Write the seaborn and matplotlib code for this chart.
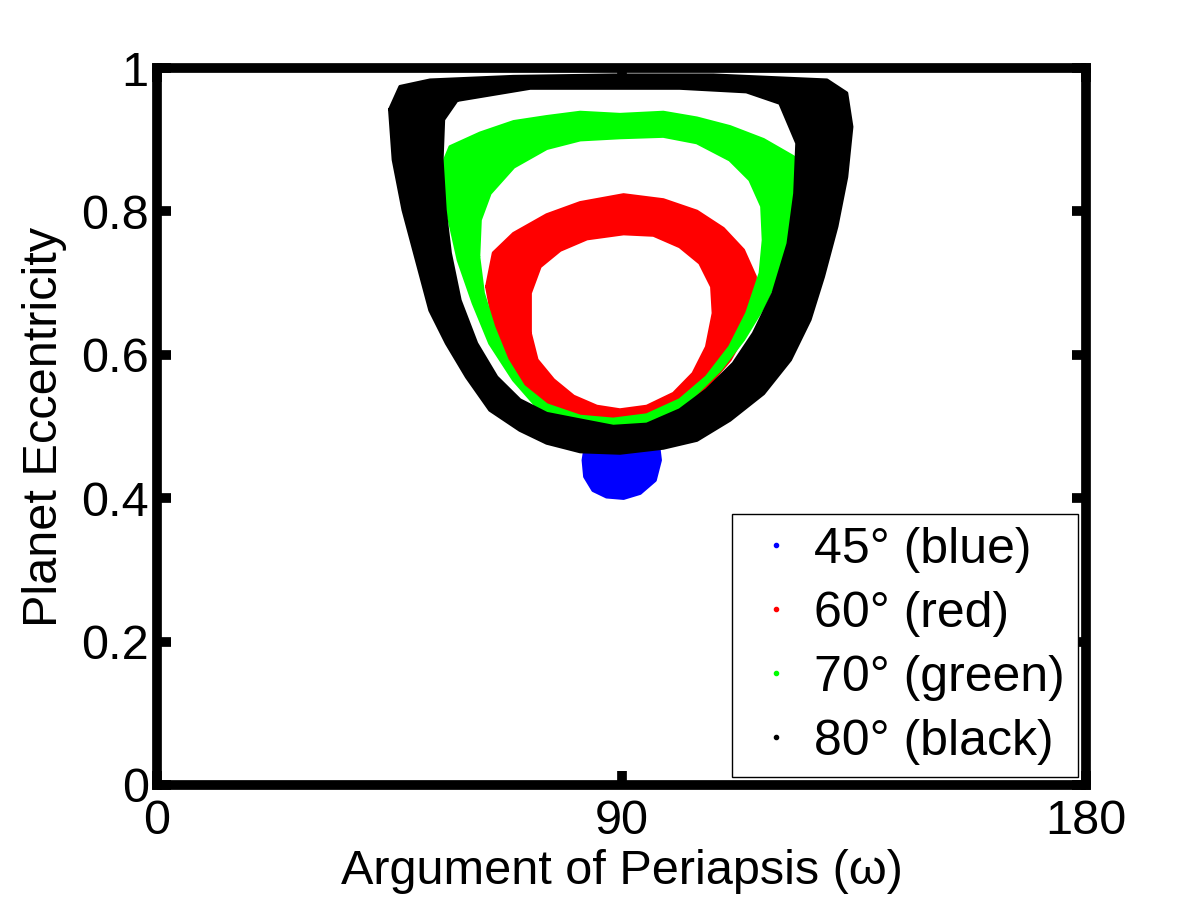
import numpy as np
import matplotlib
matplotlib.use("Agg")
import matplotlib.pyplot as plt
from matplotlib.path import Path
from matplotlib.patches import PathPatch
from matplotlib.lines import Line2D
import seaborn as sns

# Band outlines: argument of periapsis (deg) and eccentricity
blue_w = [89.7, 85.8, 83.2, 82.6, 82.9, 84.5, 87.1, 90.4, 93.6, 96.5, 97.5, 97.1, 94.9, 92.9]
blue_e = [0.518, 0.511, 0.481, 0.453, 0.430, 0.411, 0.402, 0.400, 0.407, 0.425, 0.453, 0.477, 0.504, 0.516]

red_out_w = [63.9, 65.2, 69.1, 75.5, 82.0, 90.4, 98.1, 104.6, 109.7, 113.6, 115.9, 115.9,
             114.3, 111.0, 106.5, 101.3, 94.9, 88.4, 82.0, 76.2, 71.6, 67.8, 65.2]
red_out_e = [0.695, 0.742, 0.769, 0.795, 0.812, 0.823, 0.816, 0.800, 0.776, 0.746, 0.709, 0.676,
             0.635, 0.593, 0.555, 0.525, 0.502, 0.495, 0.502, 0.523, 0.556, 0.597, 0.644]
red_in_w = [72.3, 74.2, 78.1, 83.3, 90.4, 96.2, 101.3, 105.2, 107.5, 107.8, 106.5, 103.9,
            100.1, 94.9, 89.7, 85.2, 80.7, 76.8, 73.6, 72.3]
red_in_e = [0.686, 0.723, 0.746, 0.762, 0.769, 0.767, 0.751, 0.728, 0.695, 0.658, 0.611, 0.574,
            0.546, 0.528, 0.523, 0.528, 0.542, 0.565, 0.593, 0.630]

green_out_w = [55.2, 56.8, 62.6, 69.1, 75.5, 82.0, 89.7, 98.1, 104.6, 111.0, 117.5, 123.3, 124.6,
               124.0, 123.0, 120.7, 117.5, 113.6, 109.1, 103.9, 98.8, 92.3, 88.4, 83.3, 78.1,
               73.6, 69.1, 64.5, 61.3, 58.4, 56.5, 55.5]
green_out_e = [0.862, 0.890, 0.909, 0.925, 0.932, 0.938, 0.935, 0.938, 0.930, 0.918, 0.900, 0.876, 0.858,
               0.816, 0.769, 0.718, 0.667, 0.621, 0.579, 0.542, 0.509, 0.481, 0.476, 0.481, 0.500,
               0.528, 0.565, 0.616, 0.672, 0.732, 0.793, 0.835]
green_in_w = [62.6, 64.5, 69.1, 75.5, 82.0, 89.7, 98.1, 104.6, 111.0, 114.9, 117.2, 117.5, 116.9,
              114.3, 111.0, 106.5, 101.3, 94.9, 88.4, 82.0, 75.5, 71.0, 67.8, 65.2, 63.2, 62.3]
green_in_e = [0.788, 0.825, 0.862, 0.888, 0.900, 0.903, 0.905, 0.896, 0.872, 0.844, 0.807, 0.760, 0.714,
              0.658, 0.611, 0.569, 0.537, 0.516, 0.510, 0.514, 0.530, 0.556, 0.593, 0.639, 0.686, 0.737]

black_out_w = [45.1, 45.8, 47.7, 50.3, 52.9, 56.1, 60.0, 64.5, 70.3, 75.5, 82.0, 89.7, 98.1, 104.6,
               111.0, 117.5, 122.7, 126.5, 129.1, 131.7, 133.6, 134.6, 133.6, 129.8, 107.8, 88.4,
               69.0, 52.9, 47.1]
black_out_e = [0.942, 0.872, 0.802, 0.732, 0.662, 0.616, 0.569, 0.523, 0.495, 0.477, 0.465, 0.463, 0.470,
               0.481, 0.509, 0.546, 0.593, 0.649, 0.709, 0.779, 0.848, 0.918, 0.965, 0.983, 0.990,
               0.990, 0.988, 0.983, 0.974]
black_in_w = [58.1, 72.3, 88.4, 101.3, 114.2, 120.7, 124.0, 123.6, 122.3, 119.4, 115.6, 111.7, 106.5,
              101.3, 94.9, 88.4, 81.9, 75.5, 70.3, 65.8, 61.9, 58.7, 56.8, 55.8, 55.2, 55.5]
black_in_e = [0.955, 0.972, 0.972, 0.972, 0.967, 0.951, 0.895, 0.825, 0.755, 0.686, 0.630, 0.588, 0.551,
              0.523, 0.503, 0.500, 0.509, 0.518, 0.537, 0.569, 0.616, 0.676, 0.742, 0.802, 0.872, 0.928]

labels = ["45\u00b0 (blue)", "60\u00b0 (red)", "70\u00b0 (green)", "80\u00b0 (black)"]
colors = ["#0000ff", "#ff0000", "#00ff00", "#000000"]

sns.set_style("white")
plt.rcParams["font.family"] = ["Liberation Sans", "DejaVu Sans"]
plt.rcParams["font.size"] = 35
plt.rcParams["text.color"] = "black"
plt.rcParams["axes.labelcolor"] = "black"
plt.rcParams["xtick.color"] = "black"
plt.rcParams["ytick.color"] = "black"


def signed_area(w, e):
    w = np.asarray(w)
    e = np.asarray(e)
    return 0.5 * np.sum(w * np.roll(e, -1) - np.roll(w, -1) * e)


def draw_band(ax, color, z, ow, oe, iw=None, ie=None):
    loops = [(list(ow), list(oe))]
    if iw is not None:
        iw, ie = list(iw), list(ie)
        if np.sign(signed_area(ow, oe)) == np.sign(signed_area(iw, ie)):
            iw, ie = iw[::-1], ie[::-1]
        loops.append((iw, ie))
    verts, codes = [], []
    for w, e in loops:
        pts = list(zip(w, e))
        verts += pts + [pts[0]]
        codes += [Path.MOVETO] + [Path.LINETO] * (len(pts) - 1) + [Path.CLOSEPOLY]
    ax.add_patch(PathPatch(Path(verts, codes), facecolor=color, edgecolor="none", zorder=z))
    # ragged edge of the point cloud
    for w, e in loops:
        sns.lineplot(x=w + w[:1], y=e + e[:1], sort=False, estimator=None,
                     color=color, lw=2.5, ax=ax, legend=False, zorder=z)


fig = plt.figure(figsize=(12, 9), dpi=100)
ax = fig.add_axes([157 / 1200, 1 - 785 / 900, 929 / 1200, 717 / 900])

draw_band(ax, colors[0], 1, blue_w, blue_e)
draw_band(ax, colors[1], 2, red_out_w, red_out_e, red_in_w, red_in_e)
draw_band(ax, colors[2], 3, green_out_w, green_out_e, green_in_w, green_in_e)
draw_band(ax, colors[3], 4, black_out_w, black_out_e, black_in_w, black_in_e)

ax.set_xlim(0, 180)
ax.set_ylim(0, 1)
ax.set_xticks([0, 90, 180])
ax.set_xticklabels(["0", "90", "180"])
ax.set_yticks([0, 0.2, 0.4, 0.6, 0.8, 1])
ax.set_yticklabels(["0", "0.2", "0.4", "0.6", "0.8", "1"])
ax.tick_params(direction="in", length=10, width=7, top=True, right=True,
               bottom=True, left=True, labelsize=35, colors="black")
ax.tick_params(axis="y", pad=6)
ax.tick_params(axis="x", pad=10)
for sp in ax.spines.values():
    sp.set_linewidth(7)
    sp.set_color("black")
    sp.set_zorder(6)

ax.set_xlabel("Argument of Periapsis (\u03c9)", fontsize=35, labelpad=4, color="black")
ax.set_ylabel("Planet Eccentricity", fontsize=35, labelpad=10, color="black")

handles = [Line2D([], [], ls="", marker=".", markersize=6, color=c) for c in colors]
leg = ax.legend(handles, labels, loc="lower right", bbox_to_anchor=(0.991, 0.011),
                fontsize=36, frameon=True, fancybox=False, framealpha=1,
                edgecolor="black", borderpad=0.25, handlelength=1.28, handletextpad=0.12,
                labelspacing=0.36, borderaxespad=0, labelcolor="black")
leg.get_frame().set_linewidth(1.0)

fig.savefig("out.png", dpi=100, facecolor="white")
